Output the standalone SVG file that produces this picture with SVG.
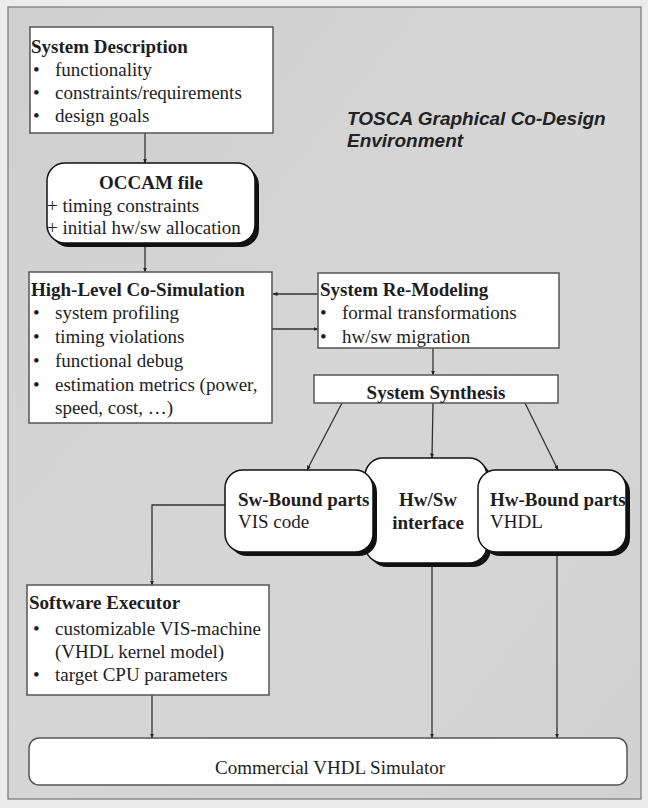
<svg xmlns="http://www.w3.org/2000/svg" width="648" height="808" viewBox="0 0 648 808">
<defs>
<linearGradient id="bg" x1="0" y1="0" x2="1" y2="1">
<stop offset="0" stop-color="#cfcfcf"/>
<stop offset="0.5" stop-color="#d6d6d6"/>
<stop offset="1" stop-color="#d2d2d2"/>
</linearGradient>
<marker id="ah" viewBox="0 0 10 10" refX="9" refY="5" markerWidth="5" markerHeight="5" orient="auto-start-reverse" markerUnits="userSpaceOnUse">
<path d="M0,1 L10,5 L0,9 z" fill="#222"/>
</marker>
</defs>
<style>
.t{font-family:"Liberation Serif","Times New Roman",serif;font-size:19px;fill:#1e1e1e}
.b{font-weight:bold}
.box{fill:#fff;stroke:#555;stroke-width:1.5}
.rbox{fill:#fff;stroke:#111;stroke-width:1.5}
.sh{fill:#111}
.c{fill:none;stroke:#333;stroke-width:1.3;marker-end:url(#ah)}
.title{font-family:"Liberation Sans",Arial,sans-serif;font-size:19px;font-weight:bold;font-style:italic;fill:#222}
</style>
<rect x="0" y="0" width="648" height="808" fill="#ececec"/>
<rect x="8" y="7" width="633" height="792" fill="url(#bg)" stroke="#8a8a8a" stroke-width="1.5"/>

<g id="title">
<text class="title" x="347" y="125">TOSCA Graphical Co-Design</text>
<text class="title" x="347" y="147">Environment</text>
</g>

<g id="connectors">
<line class="c" x1="145" y1="133" x2="145" y2="163"/>
<line class="c" x1="145" y1="245" x2="145" y2="272"/>
<line class="c" x1="318" y1="294" x2="273" y2="294"/>
<line class="c" x1="270" y1="329" x2="318" y2="329"/>
<line class="c" x1="433" y1="348" x2="433" y2="375"/>
<line class="c" x1="342" y1="403" x2="307" y2="470"/>
<line class="c" x1="433" y1="403" x2="432" y2="458"/>
<line class="c" x1="525" y1="403" x2="558" y2="470"/>
<polyline class="c" points="225,505 152,505 152,585"/>
<line class="c" x1="152" y1="695" x2="152" y2="738"/>
<line class="c" x1="432" y1="565" x2="432" y2="738"/>
<line class="c" x1="557" y1="553" x2="557" y2="738"/>
</g>

<g id="system-description">
<rect class="box" x="30" y="27" width="243" height="106"/>
<text class="t b" x="31" y="53">System Description</text>
<text class="t" x="33" y="76">•</text><text class="t" x="55" y="76">functionality</text>
<text class="t" x="33" y="99">•</text><text class="t" x="55" y="99">constraints/requirements</text>
<text class="t" x="33" y="122">•</text><text class="t" x="55" y="122">design goals</text>
</g>

<g id="occam-file">
<rect class="sh" x="51" y="167" width="208" height="80" rx="18"/>
<rect class="rbox" x="47" y="163" width="208" height="80" rx="18"/>
<text class="t b" x="151" y="189" text-anchor="middle">OCCAM file</text>
<text class="t" x="47" y="212">+ timing constraints</text>
<text class="t" x="47" y="234">+ initial hw/sw allocation</text>
</g>

<g id="high-level-co-simulation">
<rect class="box" x="29" y="272" width="243" height="151"/>
<text class="t b" x="31" y="296">High-Level Co-Simulation</text>
<text class="t" x="33" y="319">•</text><text class="t" x="55" y="319">system profiling</text>
<text class="t" x="33" y="343">•</text><text class="t" x="55" y="343">timing violations</text>
<text class="t" x="33" y="367">•</text><text class="t" x="55" y="367">functional debug</text>
<text class="t" x="33" y="391">•</text><text class="t" x="55" y="391">estimation metrics (power,</text>
<text class="t" x="55" y="414">speed, cost, …)</text>
</g>

<g id="system-re-modeling">
<rect class="box" x="318" y="273" width="241" height="75"/>
<text class="t b" x="320" y="296">System Re-Modeling</text>
<text class="t" x="320" y="319">•</text><text class="t" x="342" y="319">formal transformations</text>
<text class="t" x="320" y="343">•</text><text class="t" x="342" y="343">hw/sw migration</text>
</g>

<g id="system-synthesis">
<rect class="box" x="314" y="375" width="244" height="28"/>
<text class="t b" x="436" y="399" text-anchor="middle">System Synthesis</text>
</g>

<g id="hw-sw-interface">
<rect class="sh" x="369" y="462" width="122" height="105" rx="18"/>
<rect class="rbox" x="365" y="458" width="122" height="105" rx="18"/>
<text class="t b" x="428" y="506" text-anchor="middle">Hw/Sw</text>
<text class="t b" x="428" y="529" text-anchor="middle">interface</text>
</g>

<g id="sw-bound-parts">
<rect class="sh" x="229" y="474" width="148" height="82" rx="18"/>
<rect class="rbox" x="225" y="470" width="148" height="82" rx="18"/>
<text class="t b" x="238" y="506">Sw-Bound parts</text>
<text class="t" x="238" y="528">VIS code</text>
</g>

<g id="hw-bound-parts">
<rect class="sh" x="482" y="474" width="148" height="82" rx="18"/>
<rect class="rbox" x="478" y="470" width="148" height="82" rx="18"/>
<text class="t b" x="490" y="506">Hw-Bound parts</text>
<text class="t" x="490" y="528">VHDL</text>
</g>

<g id="software-executor">
<rect class="box" x="27" y="585" width="242" height="110"/>
<text class="t b" x="29" y="609">Software Executor</text>
<text class="t" x="33" y="635">•</text><text class="t" x="55" y="635">customizable VIS-machine</text>
<text class="t" x="55" y="658">(VHDL kernel model)</text>
<text class="t" x="33" y="681">•</text><text class="t" x="55" y="681">target CPU parameters</text>
</g>

<g id="commercial-vhdl-simulator">
<rect class="box" x="29" y="738" width="598" height="47" rx="10"/>
<text class="t" x="330" y="774" text-anchor="middle">Commercial VHDL Simulator</text>
</g>
</svg>
